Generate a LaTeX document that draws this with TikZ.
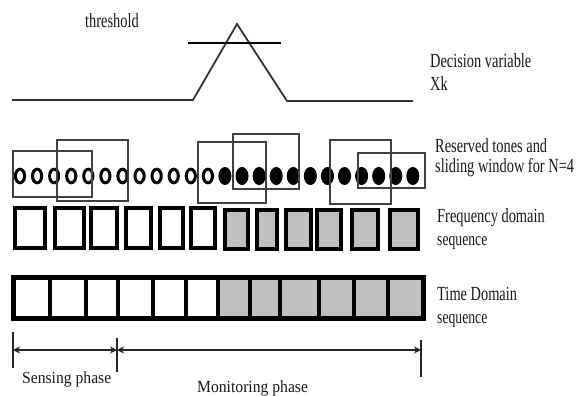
\documentclass[tikz,border=0pt]{standalone}
\usepackage{fontspec}
\setmainfont{Liberation Serif}
\newfontfamily\narrowrm[FakeStretch=0.72]{Liberation Serif}
\newfontfamily\slimrm[FakeStretch=0.92]{Liberation Serif}
\usetikzlibrary{arrows.meta}

\begin{document}
\begin{tikzpicture}[x=1pt,y=-1pt,
  lbl/.style={anchor=base west, inner sep=0pt, text=black!90,
              font=\narrowrm\fontsize{20}{20}\selectfont},
  phaselbl/.style={anchor=base west, inner sep=0pt, text=black!90,
              font=\slimrm\fontsize{17}{17}\selectfont},
  wave/.style={line width=1.8pt, draw=black!80},
  thr/.style={line width=1.8pt, draw=black},
  win/.style={line width=1.4pt, draw=black!75},
  tone/.style={line width=3pt, draw=black},
  ftone/.style={line width=1pt, draw=black, fill=black},
  fbox/.style={line width=4pt, draw=black},
  tcell/.style={line width=3.5pt, draw=black},
  dim/.style={line width=1.2pt, draw=black!85, {Stealth[length=7pt,width=7pt]}-{Stealth[length=7pt,width=7pt]}},
  tick/.style={line width=1.2pt, draw=black!85}]
\useasboundingbox (0,0) rectangle (581,396);

% decision variable waveform and threshold
\draw[wave] (12,100) -- (193,100) -- (237,24) -- (287,101) -- (413,101);
\draw[thr] (188,43) -- (281,43);
\node[lbl] (thrtxt) at (85,28) {threshold};
\node[lbl] (dv1) at (430,67) {Decision variable};
\node[lbl] (dv2) at (430,91) {Xk};

% reserved tones: 12 empty, 12 filled
\foreach \i in {0,...,11}
  \draw[tone] ({20+\i*17.08},176) ellipse (4.6 and 6.8);
\foreach \i in {12,...,23}
  \draw[ftone] ({20+\i*17.08},176) ellipse (6 and 8.5);

% sliding windows
\draw[win] (13,151) rectangle (92,197);
\draw[win] (57,140) rectangle (128,201);
\draw[win] (198,142) rectangle (266,203);
\draw[win] (233,134) rectangle (299,189);
\draw[win] (330,140) rectangle (391,204);
\draw[win] (358,153) rectangle (425,188);

\node[lbl] (rt1) at (435,152) {Reserved tones and};
\node[lbl] (rt2) at (435,172) {sliding window for N=4};

% frequency domain sequence
\foreach \l/\r in {13/47,53/86,89/119,124/153,158/185,189/217}
  \draw[fbox, fill=white] (\l+2,208) rectangle (\r-2,248);
\foreach \l/\r in {223/250,255/279,284/313,315/343,350/380,388/420}
  \draw[fbox, fill=black!25] (\l+2,210) rectangle (\r-2,249);
\node[lbl] (fd1) at (437,222) {Frequency domain};
\node[lbl, font=\narrowrm\fontsize{19}{19}\selectfont] (fd2) at (437,245) {sequence};

% time domain sequence
\fill[black!25] (218,277) rectangle (423,318);
\foreach \x in {50,86,118,153,186,218,250,280,319,354,388}
  \draw[tcell] (\x,277) -- (\x,318);
\draw[line width=5pt] (13,277) rectangle (423,318);
\node[lbl] (td1) at (437,300) {Time Domain};
\node[lbl, font=\narrowrm\fontsize{19}{19}\selectfont] (td2) at (437,323) {sequence};

% phase durations
\coordinate (p0) at (13,350);
\coordinate (p1) at (117,350);
\coordinate (p2) at (421,350);
\draw[tick] (13,332) -- (13,368);
\draw[tick] (117,338) -- (117,372);
\draw[tick] (421,340) -- (421,377);
\draw[dim] (p0) -- (p1);
\draw[dim] (p1) -- (p2);
\node[phaselbl] (sp) at (22,383) {Sensing phase};
\node[phaselbl] (mp) at (197,392) {Monitoring phase};
\end{tikzpicture}
\end{document}
